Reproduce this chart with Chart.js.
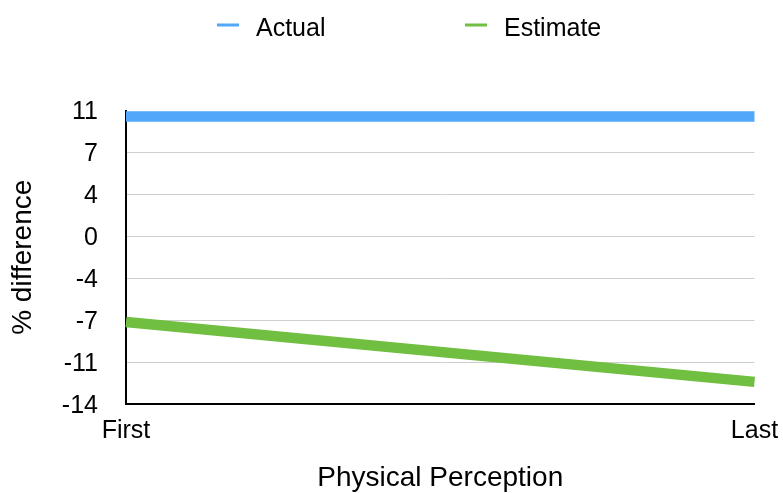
<!DOCTYPE html>
<html>
<head>
<meta charset="utf-8">
<script src="https://cdn.jsdelivr.net/npm/chart.js@4.4.1/dist/chart.umd.min.js"></script>
<style>
  html, body { margin: 0; padding: 0; background: #ffffff; }
  canvas { display: block; }
</style>
</head>
<body>
<canvas id="chart" width="783" height="493"></canvas>
<script>
// Chart data
const categories = ['First', 'Last'];
const actualValues = [10.2, 10.2];
const estimateValues = [-7.3, -12.4];
const yTickValues = [-14.286, -10.714, -7.143, -3.571, 0, 3.571, 7.143, 10.714];
const yTickLabels = ['-14', '-11', '-7', '-4', '0', '4', '7', '11'];

const FONT = "'Liberation Sans', Arial, Helvetica, sans-serif";
const BLUE = '#51A7F9';
const GREEN = '#70BF41';

// Legend drawn as short line markers followed by the series name
const lineLegend = {
  id: 'lineLegend',
  afterDraw(chart, args, opts) {
    const ctx = chart.ctx;
    ctx.save();
    ctx.font = opts.fontSize + 'px ' + FONT;
    ctx.textBaseline = 'alphabetic';
    ctx.textAlign = 'left';
    chart.data.datasets.forEach((ds, i) => {
      const x = opts.positions[i];
      ctx.fillStyle = ds.borderColor;
      ctx.fillRect(x, opts.markerY - 1.5, opts.markerWidth, 3);
      ctx.fillStyle = '#000000';
      ctx.fillText(ds.label, x + opts.markerWidth + opts.gap, opts.textBaseline);
    });
    ctx.restore();
  }
};

new Chart(document.getElementById('chart'), {
  type: 'line',
  data: {
    labels: categories,
    datasets: [
      {
        label: 'Actual',
        data: actualValues,
        borderColor: BLUE,
        backgroundColor: BLUE,
        borderWidth: 10.5,
        borderCapStyle: 'butt',
        pointRadius: 0,
        tension: 0,
        fill: false
      },
      {
        label: 'Estimate',
        data: estimateValues,
        borderColor: GREEN,
        backgroundColor: GREEN,
        borderWidth: 10.5,
        borderCapStyle: 'butt',
        pointRadius: 0,
        tension: 0,
        fill: false
      }
    ]
  },
  options: {
    responsive: false,
    animation: false,
    devicePixelRatio: 1,
    layout: { padding: { top: 110.5, right: 28.5, bottom: 0, left: 0 } },
    plugins: {
      legend: { display: false },
      tooltip: { enabled: false },
      lineLegend: {
        positions: [217, 465],
        markerWidth: 22,
        markerY: 25,
        gap: 17,
        fontSize: 25,
        textBaseline: 36
      }
    },
    scales: {
      x: {
        type: 'category',
        offset: false,
        grid: { display: false, drawTicks: false },
        border: { display: true, color: '#000000', width: 2 },
        ticks: {
          color: '#000000',
          font: { family: FONT, size: 25 },
          padding: 12,
          maxRotation: 0,
          autoSkip: false
        },
        title: {
          display: true,
          text: 'Physical Perception',
          color: '#000000',
          font: { family: FONT, size: 28, lineHeight: 1.05 },
          padding: { top: 0, bottom: 0 }
        },
        afterFit(scale) {
          scale.height = 89;
          // end labels may overhang the plot; the layout padding leaves room
          scale.paddingLeft = 0;
          scale.paddingRight = 0;
        }
      },
      y: {
        min: yTickValues[0],
        max: yTickValues[yTickValues.length - 1],
        afterBuildTicks(scale) {
          scale.ticks = yTickValues.map(v => ({ value: v }));
        },
        grid: {
          // the top gridline sits under the Actual line and is left out
          color: (c) => (c.index === yTickValues.length - 1 ? 'rgba(0,0,0,0)' : '#cfcfcf'),
          lineWidth: 1,
          drawTicks: false
        },
        border: { display: true, color: '#000000', width: 2 },
        ticks: {
          color: '#000000',
          font: { family: FONT, size: 25 },
          padding: 28,
          labelOffset: 2,
          callback: (value, index) => yTickLabels[index]
        },
        title: {
          display: true,
          text: '% difference',
          color: '#000000',
          font: { family: FONT, size: 28, lineHeight: 1.05 },
          padding: { top: 9, bottom: 0 }
        },
        afterFit(scale) {
          scale.width = 126;
          scale.paddingTop = 0;
          scale.paddingBottom = 0;
        }
      }
    }
  },
  plugins: [lineLegend]
});
</script>
</body>
</html>
